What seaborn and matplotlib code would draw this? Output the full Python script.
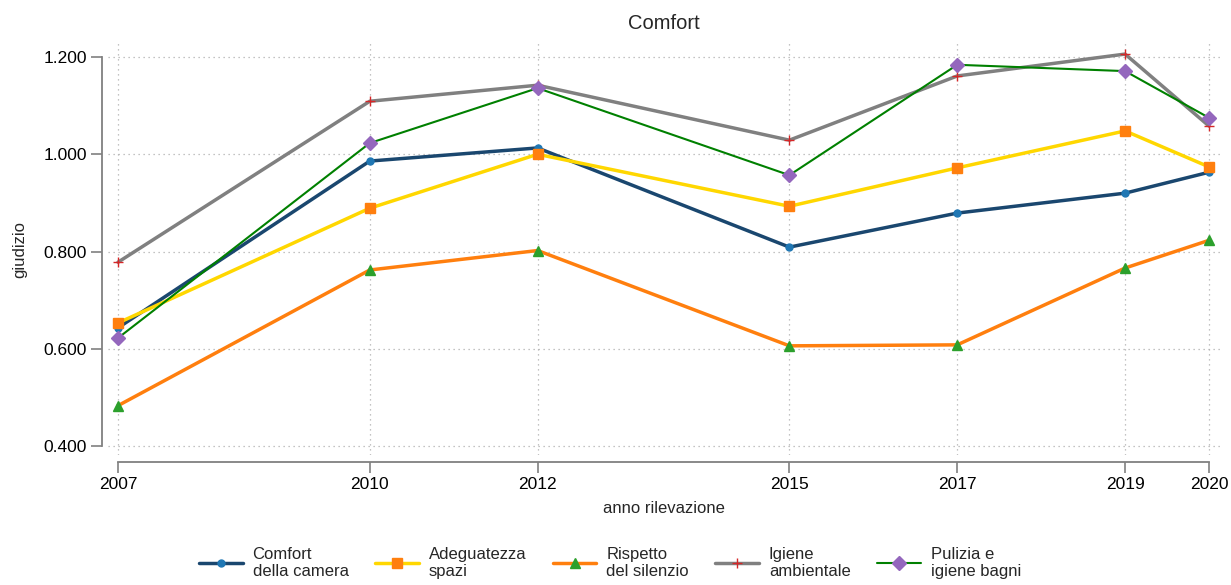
import numpy as np
import pandas as pd
import matplotlib.pyplot as plt
import seaborn as sns
from matplotlib.ticker import FormatStrFormatter

# ─── DATA ─────────────────────────────────────────────
anni = [2007, 2010, 2012, 2015, 2017, 2019, 2020]

comfort_camera = [0.643, 0.986, 1.013, 0.809, 0.879, 0.920, 0.963]
adeguatezza_spazi = [0.653, 0.889, 1.000, 0.893, 0.972, 1.048, 0.974]
rispetto_silenzio = [0.483, 0.762, 0.802, 0.606, 0.608, 0.766, 0.823]
igiene_ambientale = [0.778, 1.109, 1.142, 1.029, 1.161, 1.206, 1.058]
pulizia_bagni = [0.622, 1.023, 1.136, 0.957, 1.184, 1.171, 1.075]

etichette = ["Comfort\ndella camera", "Adeguatezza\nspazi", "Rispetto\ndel silenzio",
             "Igiene\nambientale", "Pulizia e\nigiene bagni"]
y_ticks = [0.4, 0.6, 0.8, 1.0, 1.2]

# ─── STYLE ───────────────────────────────────────────
sns.set_style("white")
plt.rcParams['font.family'] = ['Liberation Sans', 'DejaVu Sans']

series = [
    # values, line colour, line width, marker, marker colour, marker size
    (comfort_camera,    "#1a476f", 2.5, "o", "#1f77b4", 5),
    (adeguatezza_spazi, "#ffd700", 2.5, "s", "#ff7f0e", 7),
    (rispetto_silenzio, "#ff7f0e", 2.5, "^", "#2ca02c", 7),
    (igiene_ambientale, "#808080", 2.5, "+", "#d62728", 7),
    (pulizia_bagni,     "#008000", 1.5, "D", "#9467bd", 7),
]

W, H = 1231, 585
fig = plt.figure(figsize=(W / 100, H / 100), dpi=100)
ax = fig.add_axes([108 / W, (H - 455) / H, (1220 - 108) / W, (455 - 43) / H])

for (vals, lc, lw, mk, mc, ms), lab in zip(series, etichette):
    sns.lineplot(x=anni, y=vals, ax=ax, color=lc, linewidth=lw, marker=mk,
                 markersize=ms, markerfacecolor=mc, markeredgecolor=mc,
                 markeredgewidth=1.0, label=lab, clip_on=False, zorder=3)

# ─── AXES ────────────────────────────────────────────
ax.set_xlim(2006.881, 2020.131)
ax.set_ylim(0.3815, 1.2288)
ax.set_xticks(anni)
ax.set_yticks(y_ticks)
ax.yaxis.set_major_formatter(FormatStrFormatter('%.3f'))
ax.tick_params(axis='both', labelsize=12.5, length=8, width=1.2, color='#808080',
               labelcolor='black', direction='out', left=True, bottom=True, pad=3)

ax.grid(True, linestyle=(0, (1, 3)), color='#b0b0b0', linewidth=0.9)
ax.set_axisbelow(True)

for s in ['top', 'right']:
    ax.spines[s].set_visible(False)
for s in ['left', 'bottom']:
    ax.spines[s].set_color('#808080')
    ax.spines[s].set_linewidth(1.3)
ax.spines['left'].set_position(('outward', 4))
ax.spines['bottom'].set_position(('outward', 5))
ax.spines['left'].set_bounds(0.4, 1.2)
ax.spines['bottom'].set_bounds(2007, 2020)

ax.set_title("Comfort", fontsize=14.5, pad=10)
ax.set_xlabel("anno rilevazione", fontsize=12, labelpad=6)
ax.set_ylabel("giudizio", fontsize=12, labelpad=12)

ax.legend(loc='center', bbox_to_anchor=(610 / W, 22 / H), bbox_transform=fig.transFigure,
          ncol=5, frameon=False, fontsize=12, handlelength=2.6, columnspacing=1.6,
          labelspacing=0.1, handletextpad=0.6, borderaxespad=0)

plt.savefig("out.png", dpi=100)
